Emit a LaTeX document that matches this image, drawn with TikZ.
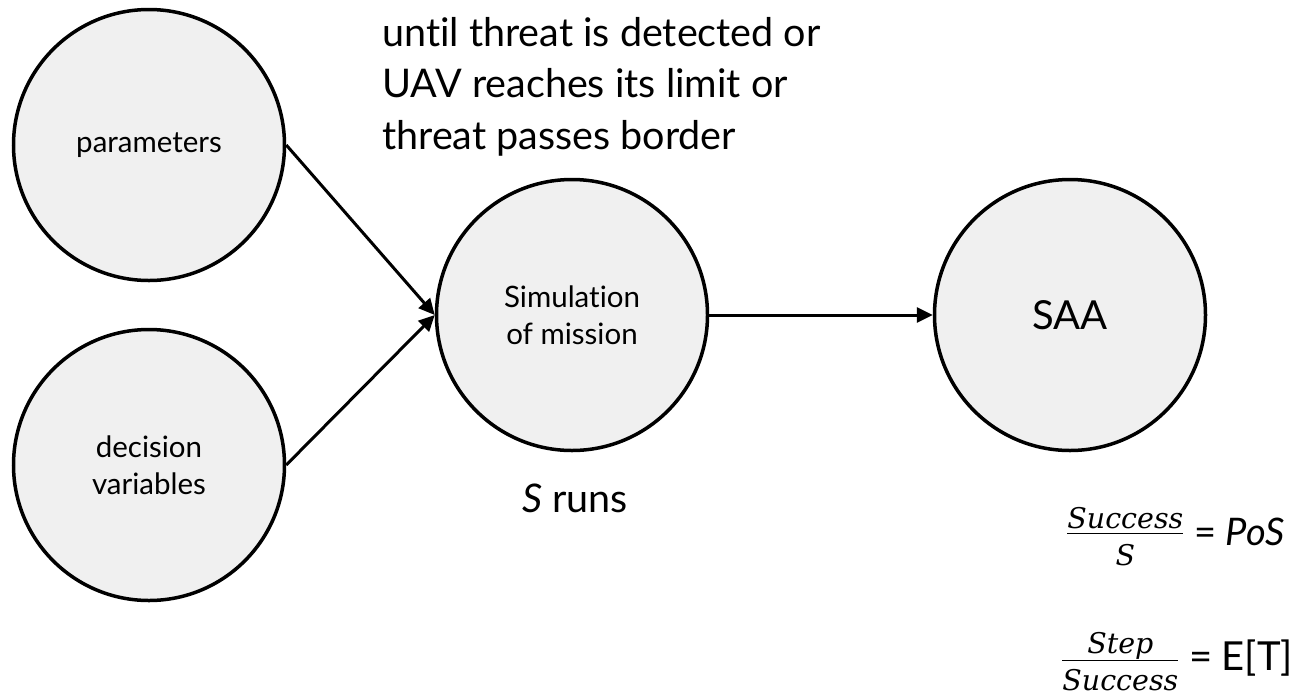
\RequirePackage{fix-cm}
\documentclass[tikz,border=0pt]{standalone}
\usepackage{fontspec}
\setmainfont{Lato}[Ligatures=NoCommon]
\newfontfamily\fracfont{DejaVu Serif}
\newcommand{\fr}[1]{\mbox{\fontsize{28.5}{30}\fracfont\itshape #1}}
\usetikzlibrary{arrows.meta}
\begin{document}
\begin{tikzpicture}[x=1pt,y=-1pt,
  bubble/.style={circle,draw,line width=3.5pt,fill=gray!12,minimum size=271pt,inner sep=0pt,align=center},
  small/.style={font=\fontsize{29.5}{37}\selectfont},
  big/.style={font=\fontsize{39.5}{51.5}\selectfont},
  conn/.style={line width=3pt,-{Triangle[length=16pt,width=15pt]}},
  eq/.style={font=\fontsize{33}{40}\selectfont,inner sep=0pt,anchor=base west}]
\useasboundingbox (0,0) rectangle (1302,697);
\node[bubble,small] (par) at (149,145) {parameters};
\node[bubble,small] (dec) at (149,465) {decision\\variables};
\node[bubble,small] (sim) at (572,315) {Simulation\\of mission};
\node[bubble,font=\fontsize{40}{40}\selectfont] (saa) at (1070,315) {SAA};
\draw[conn] (par.east) -- (sim.west);
\draw[conn] (dec.east) -- (sim.west);
\draw[conn] (sim) -- (saa);
\node[big,align=left,anchor=north west,inner sep=0pt] (cond) at (382,17) {until threat is detected or\\UAV reaches its limit or\\threat passes border};
\node[big,anchor=base,inner sep=0pt] (runs) at (575,512) {\textit{S} runs};
\node[eq] (pos) at (1066,545) {\raisebox{3.75pt}{$\frac{\fr{Success}}{\fr{\rule{0pt}{31.5pt}S}}$}\hspace{10pt}{\fontsize{38}{40}\selectfont =\hspace{9pt}\textit{PoS}}};
\node[eq] (et) at (1061,670) {\raisebox{1.75pt}{$\frac{\fr{Step}}{\fr{\rule{0pt}{29.5pt}Success}}$}\hspace{10pt}{\fontsize{40}{40}\selectfont =\hspace{9pt}E[T]}};
\end{tikzpicture}
\end{document}
